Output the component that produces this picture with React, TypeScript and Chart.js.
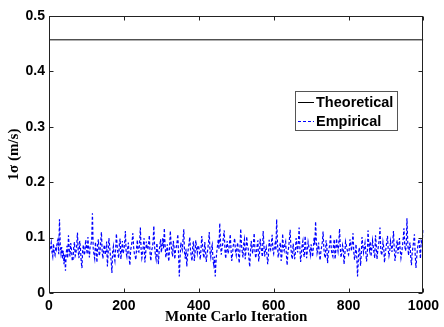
import React, { useEffect, useRef } from "react";
import { Chart, registerables } from "chart.js";

Chart.register(...registerables);

const X_TICKS = [0, 200, 400, 600, 800, 1000];
const Y_TICKS = [0, 0.1, 0.2, 0.3, 0.4, 0.5];
const ITER_STEP = 2;
const THEORETICAL_LEVEL = 0.457;
const THEORETICAL_X = [0, 1000];
const SERIES_LABELS = ["Theoretical", "Empirical"];

const EMPIRICAL = [
  // 0-98
  0.095, 0.078, 0.082, 0.091, 0.074, 0.066, 0.089, 0.072, 0.068, 0.084, 0.079, 0.093, 0.097, 0.070, 0.133, 0.088, 0.072, 0.083, 0.061, 0.076, 0.052, 0.069, 0.040, 0.071, 0.085,
  0.063, 0.104, 0.080, 0.066, 0.090, 0.078, 0.059, 0.058, 0.082, 0.092, 0.067, 0.071, 0.086, 0.109, 0.075, 0.063, 0.094, 0.081, 0.057, 0.045, 0.079, 0.087, 0.068, 0.074, 0.096,
  // 100-198
  0.083, 0.070, 0.101, 0.077, 0.064, 0.085, 0.088, 0.095, 0.144, 0.081, 0.070, 0.062, 0.092, 0.078, 0.055, 0.088, 0.097, 0.067, 0.073, 0.091, 0.110, 0.074, 0.062, 0.080, 0.087,
  0.069, 0.076, 0.093, 0.048, 0.072, 0.099, 0.084, 0.068, 0.059, 0.036, 0.075, 0.084, 0.066, 0.058, 0.079, 0.107, 0.085, 0.072, 0.063, 0.089, 0.098, 0.061, 0.076, 0.094, 0.071,
  // 200-298
  0.078, 0.089, 0.112, 0.073, 0.066, 0.080, 0.091, 0.064, 0.050, 0.077, 0.085, 0.094, 0.108, 0.083, 0.071, 0.067, 0.060, 0.082, 0.096, 0.075, 0.074, 0.090, 0.118, 0.079, 0.063,
  0.071, 0.087, 0.099, 0.055, 0.068, 0.093, 0.081, 0.079, 0.088, 0.104, 0.070, 0.058, 0.076, 0.082, 0.092, 0.121, 0.084, 0.069, 0.061, 0.090, 0.078, 0.052, 0.073, 0.086, 0.097,
  // 300-398
  0.073, 0.085, 0.099, 0.080, 0.117, 0.087, 0.064, 0.074, 0.088, 0.069, 0.057, 0.081, 0.112, 0.090, 0.075, 0.066, 0.094, 0.083, 0.061, 0.078, 0.083, 0.092, 0.106, 0.070, 0.030,
  0.062, 0.091, 0.084, 0.078, 0.096, 0.115, 0.073, 0.062, 0.080, 0.048, 0.067, 0.080, 0.089, 0.101, 0.077, 0.066, 0.058, 0.087, 0.093, 0.058, 0.071, 0.095, 0.082, 0.072, 0.086,
  // 400-498
  0.084, 0.072, 0.060, 0.079, 0.103, 0.086, 0.070, 0.063, 0.092, 0.077, 0.056, 0.068, 0.079, 0.091, 0.110, 0.074, 0.065, 0.081, 0.087, 0.059, 0.051, 0.066, 0.030, 0.057, 0.074,
  0.085, 0.097, 0.079, 0.126, 0.093, 0.069, 0.082, 0.088, 0.101, 0.113, 0.076, 0.062, 0.084, 0.094, 0.071, 0.077, 0.090, 0.106, 0.080, 0.058, 0.069, 0.085, 0.092, 0.099, 0.075,
  // 500-598
  0.068, 0.083, 0.091, 0.070, 0.054, 0.079, 0.116, 0.088, 0.075, 0.064, 0.089, 0.097, 0.061, 0.076, 0.102, 0.085, 0.080, 0.062, 0.047, 0.073, 0.094, 0.081, 0.071, 0.090, 0.108,
  0.077, 0.063, 0.072, 0.086, 0.095, 0.057, 0.069, 0.098, 0.084, 0.074, 0.065, 0.112, 0.087, 0.066, 0.078, 0.083, 0.070, 0.052, 0.067, 0.096, 0.082, 0.078, 0.091, 0.105, 0.076,
  // 600-698
  0.071, 0.084, 0.090, 0.077, 0.133, 0.095, 0.064, 0.072, 0.085, 0.091, 0.058, 0.068, 0.107, 0.080, 0.076, 0.088, 0.093, 0.069, 0.050, 0.074, 0.082, 0.096, 0.114, 0.083, 0.067,
  0.061, 0.089, 0.079, 0.061, 0.073, 0.099, 0.086, 0.073, 0.092, 0.118, 0.081, 0.056, 0.070, 0.087, 0.094, 0.070, 0.065, 0.103, 0.085, 0.063, 0.076, 0.092, 0.084, 0.078, 0.069,
  // 700-798
  0.088, 0.076, 0.065, 0.082, 0.100, 0.087, 0.129, 0.094, 0.072, 0.079, 0.091, 0.070, 0.059, 0.074, 0.083, 0.092, 0.111, 0.081, 0.068, 0.063, 0.095, 0.085, 0.054, 0.071, 0.080,
  0.089, 0.106, 0.078, 0.070, 0.066, 0.089, 0.097, 0.061, 0.077, 0.098, 0.084, 0.075, 0.090, 0.116, 0.082, 0.064, 0.073, 0.086, 0.079, 0.052, 0.068, 0.093, 0.087, 0.079, 0.072,
  // 800-898
  0.069, 0.080, 0.097, 0.085, 0.076, 0.092, 0.108, 0.074, 0.060, 0.071, 0.088, 0.065, 0.030, 0.058, 0.082, 0.077, 0.049, 0.070, 0.101, 0.086, 0.073, 0.081, 0.090, 0.075, 0.057,
  0.068, 0.113, 0.089, 0.078, 0.093, 0.066, 0.079, 0.095, 0.084, 0.072, 0.063, 0.104, 0.087, 0.061, 0.076, 0.086, 0.096, 0.118, 0.080, 0.068, 0.074, 0.092, 0.083, 0.055, 0.071,
  // 900-998
  0.081, 0.092, 0.103, 0.078, 0.067, 0.075, 0.094, 0.086, 0.074, 0.090, 0.112, 0.080, 0.058, 0.069, 0.088, 0.095, 0.071, 0.083, 0.099, 0.077, 0.063, 0.072, 0.085, 0.098, 0.117,
  0.087, 0.076, 0.084, 0.135, 0.093, 0.068, 0.079, 0.091, 0.066, 0.050, 0.073, 0.083, 0.094, 0.106, 0.070, 0.045, 0.064, 0.079, 0.089, 0.097, 0.081, 0.062, 0.093, 0.088, 0.102,
  // 1000
  0.115,
];

const TICK_FONT = { family: "'Liberation Sans', Arial, sans-serif", weight: "bold" as const, size: 14 };
const TITLE_FONT = { family: "'Liberation Serif', 'Times New Roman', serif", weight: "bold" as const, size: 15 };

const framePlugin = {
  id: "frameAndLegend",
  afterDraw(chart: any) {
    const { ctx, chartArea, scales } = chart;
    const { left, right, top, bottom } = chartArea;
    const xs = scales.x;
    const ys = scales.y;
    ctx.save();
    ctx.strokeStyle = "#222";
    ctx.lineWidth = 1;
    ctx.setLineDash([]);
    const L = Math.round(left) + 0.5;
    const R = Math.round(right) - 0.5;
    const T = Math.round(top) + 0.5;
    const B = Math.round(bottom) - 0.5;
    ctx.strokeRect(L, T, R - L, B - T);
    const tl = 4;
    ctx.beginPath();
    X_TICKS.forEach((v) => {
      const px = Math.round(xs.getPixelForValue(v)) + 0.5;
      ctx.moveTo(px, B);
      ctx.lineTo(px, B - tl);
      ctx.moveTo(px, T);
      ctx.lineTo(px, T + tl);
    });
    Y_TICKS.forEach((v) => {
      const py = Math.round(ys.getPixelForValue(v)) + 0.5;
      ctx.moveTo(L, py);
      ctx.lineTo(L + tl, py);
      ctx.moveTo(R, py);
      ctx.lineTo(R - tl, py);
    });
    ctx.stroke();

    // legend box
    const bx = 295.5, by = 91.5, bw = 102, bh = 39;
    ctx.fillStyle = "#fff";
    ctx.fillRect(bx, by, bw, bh);
    ctx.strokeStyle = "#555";
    ctx.strokeRect(bx, by, bw, bh);
    const ds = chart.data.datasets;
    const rows = [102, 121];
    ds.forEach((d: any, i: number) => {
      const y = rows[i] + 0.5;
      ctx.strokeStyle = d.borderColor;
      ctx.lineWidth = 1;
      ctx.setLineDash(d.borderDash || []);
      ctx.beginPath();
      ctx.moveTo(298, y);
      ctx.lineTo(314, y);
      ctx.stroke();
      ctx.setLineDash([]);
      ctx.fillStyle = "#000";
      ctx.font = "bold 14.5px 'Liberation Sans', Arial, sans-serif";
      ctx.textBaseline = "middle";
      ctx.textAlign = "left";
      ctx.fillText(d.label, 316, rows[i] + 0.5);
    });
    ctx.restore();
  },
};

export default function App() {
  const ref = useRef<HTMLCanvasElement | null>(null);
  useEffect(() => {
    if (!ref.current) return;
    const chart = new Chart(ref.current, {
      type: "line",
      data: {
        datasets: [
          {
            label: SERIES_LABELS[0],
            data: THEORETICAL_X.map((x) => ({ x, y: THEORETICAL_LEVEL })),
            borderColor: "#000000",
            borderWidth: 1,
            pointRadius: 0,
            borderDash: [],
          },
          {
            label: SERIES_LABELS[1],
            data: EMPIRICAL.map((v, i) => ({ x: i * ITER_STEP, y: v })),
            borderColor: "#0000ff",
            borderWidth: 1.2,
            pointRadius: 0,
            borderDash: [3, 2],
          },
        ],
      },
      options: {
        animation: false,
        responsive: false,
        maintainAspectRatio: false,
        layout: { padding: { top: 16, right: 19, left: 0, bottom: 0 } },
        plugins: { legend: { display: false }, tooltip: { enabled: false } },
        scales: {
          x: {
            type: "linear",
            min: 0,
            max: 1000,
            afterFit: (s: any) => { s.height = 34; },
            afterBuildTicks: (s: any) => { s.ticks = X_TICKS.map((v) => ({ value: v })); },
            grid: { display: false, drawTicks: false },
            border: { display: false },
            ticks: { font: TICK_FONT, color: "#000", padding: 5, maxRotation: 0, callback: (v: any) => String(v) },
            title: { display: true, text: "Monte Carlo Iteration", font: TITLE_FONT, color: "#000", padding: { top: 0, bottom: 1 } },
          },
          y: {
            type: "linear",
            min: 0,
            max: 0.5,
            afterFit: (s: any) => { s.width = 49; },
            afterBuildTicks: (s: any) => { s.ticks = Y_TICKS.map((v) => ({ value: v })); },
            grid: { display: false, drawTicks: false },
            border: { display: false },
            ticks: { font: TICK_FONT, color: "#000", padding: 4, callback: (v: any) => String(v) },
            title: { display: true, text: "1σ (m/s)", font: TITLE_FONT, color: "#000", padding: { top: 5, bottom: 0 } },
          },
        },
      },
      plugins: [framePlugin],
    });
    return () => chart.destroy();
  }, []);
  return (
    <div style={{ position: "fixed", left: 0, top: 0, width: 444, height: 327, background: "#fff" }}>
      <canvas ref={ref} width={444} height={327} style={{ width: 444, height: 327, display: "block" }} />
    </div>
  );
}
